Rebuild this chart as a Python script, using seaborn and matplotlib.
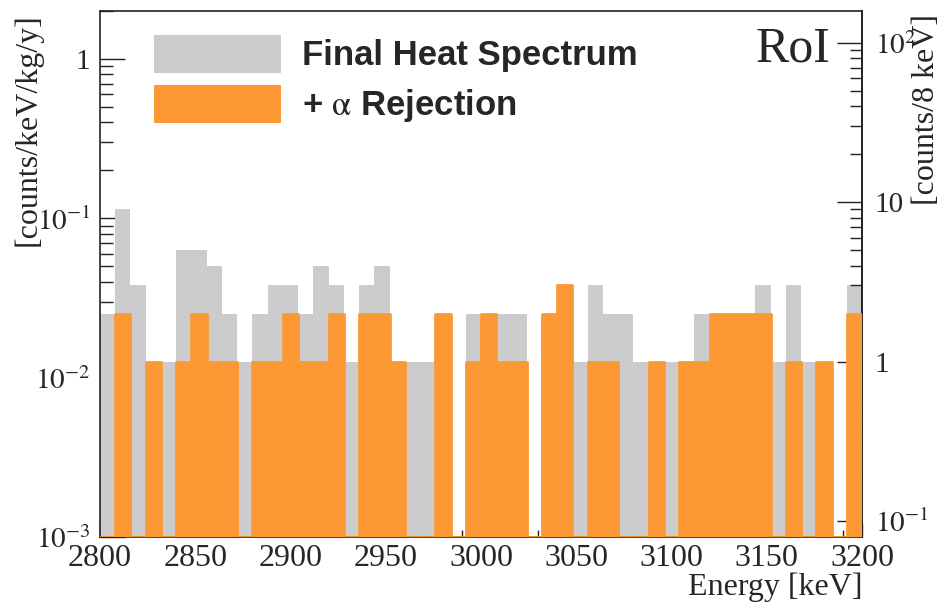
import numpy as np
import pandas as pd
import seaborn as sns
import matplotlib.pyplot as plt
from matplotlib.patches import Patch
from matplotlib.ticker import LogLocator, MultipleLocator, FuncFormatter, NullFormatter

# Binning of the region of interest and detector exposure
E_MIN, E_MAX, BIN_WIDTH = 2800, 3200, 8
EXPOSURE = 9.9  # kg*y

# Events per 8 keV bin, 2800-3200 keV
heat_counts = [2, 9, 3, 1, 1, 5, 5, 4, 2, 1,
               2, 3, 3, 2, 4, 3, 1, 3, 4, 1,
               1, 1, 2, 0, 2, 2, 2, 2, 0, 2,
               3, 1, 3, 2, 2, 1, 1, 1, 1, 2,
               2, 2, 2, 3, 1, 3, 1, 1, 0, 3]
alpha_rejected_counts = [0, 2, 0, 1, 0, 1, 2, 1, 1, 0,
                         1, 1, 2, 1, 1, 2, 0, 2, 2, 1,
                         0, 0, 2, 0, 1, 2, 1, 1, 0, 2,
                         3, 0, 1, 1, 0, 0, 1, 0, 1, 1,
                         2, 2, 2, 2, 0, 1, 0, 1, 0, 2]

series_labels = ["Final Heat Spectrum", r"+ $\mathrm{\alpha}$ Rejection"]
GREY = "#cccccc"
ORANGE = "#fd9934"
Y_MIN, Y_MAX = 1e-3, 2.0
X_TICK_SIZE = 23
Y_TICK_SIZE = 21
LABEL_SIZE = 23

edges = np.arange(E_MIN, E_MAX + BIN_WIDTH, BIN_WIDTH)
bin_edges = edges.tolist()
centers = edges[:-1] + BIN_WIDTH / 2
per_count = 1.0 / (BIN_WIDTH * EXPOSURE)  # counts/keV/kg/y for one event in a bin

df = pd.DataFrame({
    "energy": centers,
    "heat": np.array(heat_counts) * per_count,
    "alpha": np.array(alpha_rejected_counts) * per_count,
})
df["alpha_outline"] = np.maximum(df["alpha"], Y_MIN)

sns.set_style("ticks")
plt.rcParams["font.family"] = ["Liberation Serif", "DejaVu Serif"]
plt.rcParams["mathtext.fontset"] = "stix"

fig = plt.figure(figsize=(9.41, 6.05), dpi=100)
ax = fig.add_axes([100 / 941, 1 - 537 / 605, 762 / 941, 526 / 605])

# Filled histograms: heat spectrum below, alpha-rejected spectrum on top of the axis ticks
sns.histplot(data=df, x="energy", weights="heat", bins=bin_edges, element="step",
             fill=True, color=GREY, alpha=1, linewidth=0, zorder=1, ax=ax)
sns.histplot(data=df, x="energy", weights="alpha", bins=bin_edges, element="step",
             fill=True, color=ORANGE, alpha=1, linewidth=0, zorder=3, ax=ax)
# Outline of the alpha-rejected histogram, empty bins running along the bottom
sns.histplot(data=df, x="energy", weights="alpha_outline", bins=bin_edges,
             element="step", fill=False, color=ORANGE, linewidth=2, zorder=3.1, ax=ax)

ax.set_yscale("log")
ax.set_xlim(E_MIN, E_MAX)
ax.set_ylim(Y_MIN, Y_MAX)


def root_log_label(v, pos):
    e = int(round(np.log10(v)))
    if e == 0:
        return "1"
    if e == 1:
        return "10"
    return rf"$10^{{{e}}}$"


ax.xaxis.set_major_locator(MultipleLocator(50))
ax.xaxis.set_minor_locator(MultipleLocator(10))
ax.yaxis.set_major_locator(LogLocator(base=10, numticks=10))
ax.yaxis.set_minor_locator(LogLocator(base=10, subs=np.arange(2, 10), numticks=20))
ax.yaxis.set_major_formatter(FuncFormatter(root_log_label))
ax.yaxis.set_minor_formatter(NullFormatter())

ax.tick_params(axis="y", which="major", direction="in", length=18, width=1,
               labelsize=Y_TICK_SIZE, pad=7, right=False, color="#222222")
ax.tick_params(axis="y", which="minor", direction="in", length=9, width=1,
               right=False, color="#222222")
ax.tick_params(axis="x", which="major", direction="in", length=10, width=1,
               labelsize=X_TICK_SIZE, pad=5, top=False, color="#222222")
ax.tick_params(axis="x", which="minor", direction="in", length=5, width=1,
               top=False, color="#222222")

for sp in ax.spines.values():
    sp.set_color("#222222")
    sp.set_linewidth(1.2)
    sp.set_visible(True)

# Right-hand axis in counts per 8 keV bin
sec = ax.secondary_yaxis("right", functions=(lambda r: r / per_count,
                                             lambda c: c * per_count))
sec.set_zorder(2.6)
sec.yaxis.set_major_locator(LogLocator(base=10, numticks=10))
sec.yaxis.set_minor_locator(LogLocator(base=10, subs=np.arange(2, 10), numticks=20))
sec.yaxis.set_major_formatter(FuncFormatter(root_log_label))
sec.yaxis.set_minor_formatter(NullFormatter())
sec.tick_params(axis="y", which="major", direction="in", length=18, width=1,
                labelsize=Y_TICK_SIZE, pad=9, color="#222222")
sec.tick_params(axis="y", which="minor", direction="in", length=9, width=1,
                color="#222222")
sec.spines["right"].set_color("#222222")
sec.spines["right"].set_linewidth(1.2)

ax.set_xlabel("Energy [keV]", fontsize=LABEL_SIZE)
ax.xaxis.set_label_coords(1.0, -0.110)
ax.xaxis.label.set_ha("right")
ax.xaxis.label.set_va("baseline")

ax.set_ylabel("[counts/keV/kg/y]", fontsize=LABEL_SIZE)
ax.yaxis.set_label_coords(-0.095, 0.996)
ax.yaxis.label.set_rotation_mode("anchor")
ax.yaxis.label.set_ha("right")
ax.yaxis.label.set_va("center")

sec.set_ylabel("[counts/8 keV]", fontsize=LABEL_SIZE)
sec.yaxis.set_label_coords(1.084, 0.994, transform=ax.transAxes)
sec.yaxis.label.set_rotation(90)
sec.yaxis.label.set_rotation_mode("anchor")
sec.yaxis.label.set_ha("right")
sec.yaxis.label.set_va("center")

handles = [Patch(facecolor=GREY, edgecolor="none", label=series_labels[0]),
           Patch(facecolor=ORANGE, edgecolor="none", label=series_labels[1])]
ax.legend(handles=handles, loc="upper left", bbox_to_anchor=(0.0709, 0.955),
          frameon=False, prop={"family": "Liberation Sans", "weight": "bold", "size": 25},
          handlelength=3.65, handleheight=1.3, handletextpad=0.62, labelspacing=0.35,
          borderpad=0, borderaxespad=0)

ax.text(0.958, 0.927, "RoI", transform=ax.transAxes, ha="right", va="center",
        fontsize=36, family="Liberation Serif")

fig.savefig("out.png", dpi=100)
